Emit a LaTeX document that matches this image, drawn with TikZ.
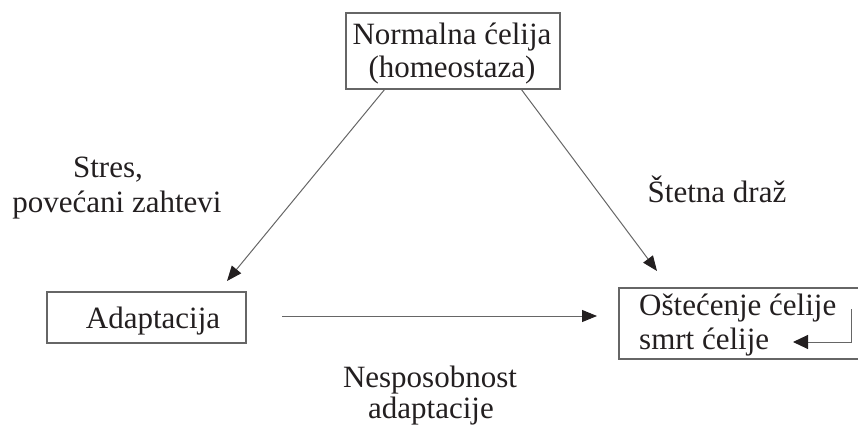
\documentclass[tikz,border=0pt]{standalone}
\usepackage{fontspec}
\setmainfont{Liberation Serif}
\usetikzlibrary{arrows.meta}
\definecolor{inkdark}{HTML}{231F20}
\definecolor{linegray}{HTML}{666666}
\begin{document}
\begin{tikzpicture}[x=1pt,y=-1pt,
  box/.style={draw=linegray, line width=1.3pt, inner sep=0pt},
  lbl/.style={inner sep=0pt, anchor=base, text=inkdark, font=\fontsize{31}{37}\selectfont},
  lblw/.style={lbl, anchor=base west},
  conn/.style={draw=linegray, line width=1pt, -{Triangle[length=15pt,width=12pt,color=inkdark]}}
]
\useasboundingbox (0,0) rectangle (858,430);

% boxes
\node[box, minimum width=214pt, minimum height=76pt] (norm) at (453,51) {};
\node[box, minimum width=199pt, minimum height=51pt] (adapt) at (146.5,317.5) {};
\node[box, minimum width=245pt, minimum height=71pt] (injury) at (741.5,323.5) {};

% box texts
\node[lbl] (t1) at (452,45) {Normalna ćelija};
\node[lbl] (t2) at (452,78) {(homeostaza)};
\node[lbl] (t3) at (153,328) {Adaptacija};
\node[lblw] (t4) at (639,315) {Oštećenje ćelije};
\node[lblw] (t5) at (639,349) {smrt ćelije};

% connector labels
\node[lbl] (l1) at (108,178) {Stres,};
\node[lbl] (l2) at (117,212) {povećani zahtevi};
\node[lbl] (l3) at (717,203) {Štetna draž};
\node[lbl] (l4) at (430,387) {Nesposobnost};
\node[lbl] (l5) at (431,418) {adaptacije};

% connector end points
\coordinate (n1) at (385,89);
\coordinate (n2) at (521,89);
\coordinate (a1) at (227,281);
\coordinate (i1) at (657,271);
\coordinate (h1) at (282,316);
\coordinate (h2) at (597,316);
\coordinate (r1) at (851,309);
\coordinate (r2) at (793,342);

% connectors
\draw[conn] (n1) -- (a1);
\draw[conn] (n2) -- (i1);
\draw[conn] (h1) -- (h2);
\draw[conn, -{Triangle[length=15pt,width=14pt,color=inkdark]}] (r1) |- (r2);
\end{tikzpicture}
\end{document}
